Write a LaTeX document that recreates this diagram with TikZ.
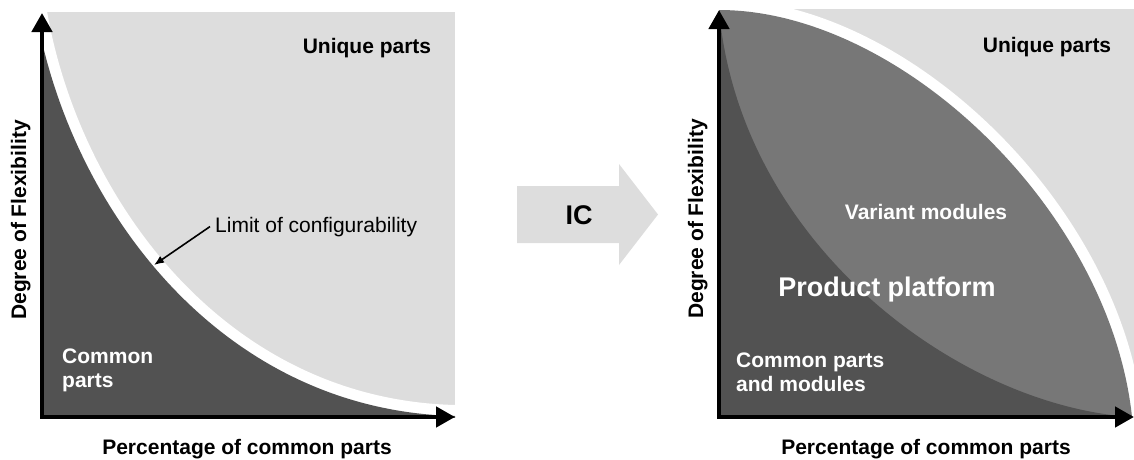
\documentclass[tikz,border=0pt]{standalone}
\usepackage{fontspec}
\setmainfont{Liberation Sans}
\usetikzlibrary{arrows.meta}
\definecolor{lightpart}{HTML}{DDDDDD}
\definecolor{darkpart}{HTML}{525252}
\definecolor{midpart}{HTML}{777777}

\begin{document}
\begin{tikzpicture}[x=1pt,y=-1pt,
  lbl/.style={font=\fontsize{21}{24}\selectfont\bfseries, inner sep=0pt},
  plain/.style={font=\fontsize{21}{24}\selectfont, inner sep=0pt},
  biglbl/.style={font=\fontsize{27}{30}\selectfont\bfseries, inner sep=0pt},
  axis/.style={line width=4.5pt, line join=miter,
    {Triangle[width=20pt,length=19pt]}-{Triangle[width=20pt,length=19pt]}},
  gap/.style={white, line width=22pt},
  pointer/.style={line width=1.6pt, -{Latex[length=10pt,width=8pt]}},
]
\useasboundingbox (0,0) rectangle (1134,459);

% ---------- left chart: before integration ----------
\coordinate (LY) at (42,13);
\coordinate (LO) at (42,417);
\coordinate (LX) at (455,417);
\fill[lightpart] (42,12) rectangle (455,417);
\draw[gap] (36,12) .. controls (68,200) and (215,410) .. (455,416);
\begin{scope}
  \clip (42,12) rectangle (455,417);
  \fill[darkpart] (36,420) -- (36,12) .. controls (68,200) and (215,410) .. (455,416)
    -- (455,420) -- cycle;
\end{scope}
\draw[axis] (LY) -- (LO) -- (LX);

\node[lbl, anchor=base] (lunique) at (367,53) {Unique parts};
\node[plain, anchor=base west] (limit) at (215,232) {Limit of configurability};
\coordinate (limtip) at (154,265);
\draw[pointer] ([xshift=-5pt]limit.west) -- (limtip);
\node[lbl, white, anchor=north west, align=left] (lcommon) at (62,349) {Common\\parts};
\node[lbl, anchor=base] (lxlab) at (247,454) {Percentage of common parts};
\node[lbl, anchor=base, rotate=90] (lylab) at (26,220) {Degree of Flexibility};

% ---------- transition arrow ----------
\fill[lightpart] (517,186) -- (619,186) -- (619,164) -- (658,214.5) -- (619,265)
  -- (619,243) -- (517,243) -- cycle;
\node[biglbl, anchor=base] (ic) at (579,224) {IC};

% ---------- right chart: after integration ----------
\coordinate (RY) at (719,10);
\coordinate (RO) at (719,417);
\coordinate (RX) at (1134,417);
\fill[lightpart] (719,9) rectangle (1134,417);
\draw[gap] (719,10) .. controls (900,10) and (1110,210) .. (1132,417);
\fill[midpart] (719,417) -- (719,10) .. controls (900,10) and (1110,210) .. (1132,417) -- cycle;
\fill[darkpart] (719,417) -- (719,10) .. controls (740,245) and (960,406) .. (1132,417) -- cycle;
\draw[axis] (RY) -- (RO) -- (RX);

\node[lbl, anchor=base] (runique) at (1047,52) {Unique parts};
\node[lbl, white, anchor=base] (variant) at (926,219) {Variant modules};
\node[biglbl, white, anchor=base] (platform) at (887,296) {Product platform};
\node[lbl, white, anchor=north west, align=left] (rcommon) at (736,353) {Common parts\\and modules};
\node[lbl, anchor=base] (rxlab) at (926,454) {Percentage of common parts};
\node[lbl, anchor=base, rotate=90] (rylab) at (703,219) {Degree of Flexibility};
\end{tikzpicture}
\end{document}
